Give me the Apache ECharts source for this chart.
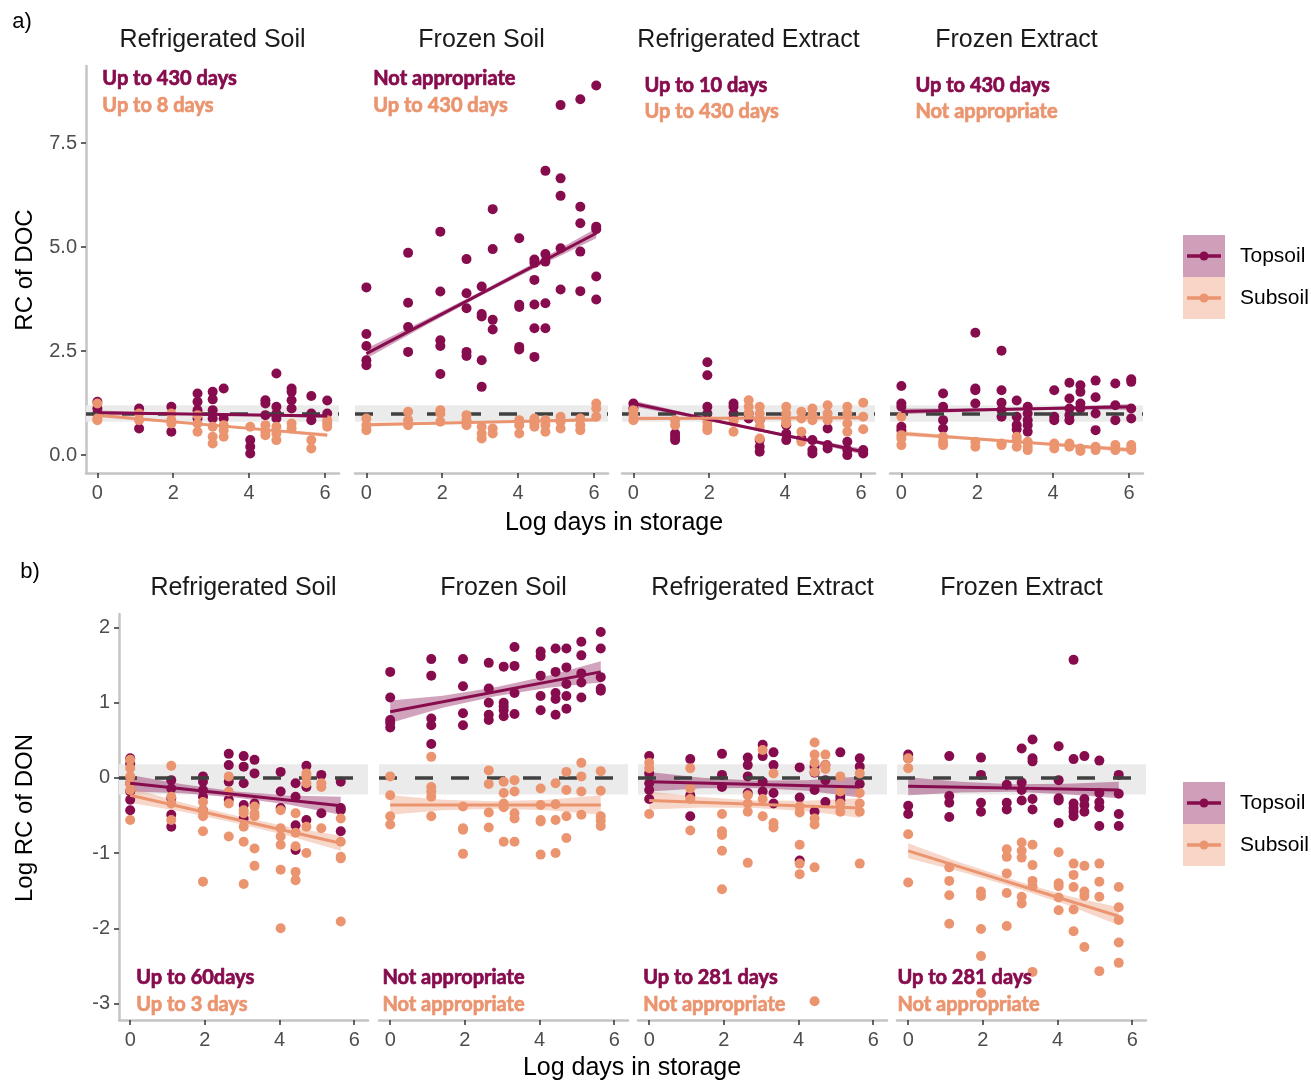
<!DOCTYPE html>
<html lang="en">
<head>
<meta charset="UTF-8">
<title>RC of DOC and DON in storage</title>
<script src="https://cdn.jsdelivr.net/npm/echarts@6/dist/echarts.min.js"></script>
<style>html, body { margin: 0; background: #fff; }</style>
</head>
<body>
<div id="main" style="width: 1311px; height: 1081px;"></div>
<script>
// storage times, log days (a: up to 430 d, b: up to 281 d)
const logDaysA = [0, 1.1, 1.95, 2.64, 3.04, 3.33, 4.03, 4.43, 4.72, 5.12, 5.64, 6.06];
const logDaysB = [0, 1.1, 1.95, 2.64, 3.04, 3.33, 4.03, 4.43, 4.72, 5.12, 5.64];
const facets = ['Refrigerated Soil', 'Frozen Soil', 'Refrigerated Extract', 'Frozen Extract'];
const xTicks = [0, 2, 4, 6];
const docTicks = [0, 2.5, 5, 7.5];
const donTicks = [-3, -2, -1, 0, 1, 2];

// a) RC of DOC, replicates at each storage time
const docRefSoilTop = [[1.28,1.12,1.0],[1.12,0.64],[1.16,0.56],[1.48,1.28,1.08,0.88],[1.52,1.34,1.08,0.88],[1.60,0.88],[0.36,0.20,0.04],[1.32,1.24,0.96],[1.96,1.16,1.0,0.88],[1.60,1.52,1.32,1.12],[1.42,1.0,0.84],[1.31,1.0]];
const docRefSoilSub = [[1.24,0.88,0.84],[1.0,0.84],[1.0,0.84,0.76],[0.96,0.76,0.56],[0.68,0.44,0.28],[0.72,0.60,0.44],[0.68],[0.72,0.56,0.48],[0.68,0.52,0.36],[0.76,0.64],[0.36,0.16],[0.84,0.76,0.68]];
const docFrzSoilTop = [[4.03,2.91,2.62,2.28,2.16],[4.86,3.66,3.08,2.48],[5.37,3.93,2.76,2.62,1.95],[4.71,3.89,3.53,2.48,2.38],[4.05,3.39,3.33,2.28,1.64],[5.91,4.95,3.25,3.02],[5.21,3.61,3.56,2.60,2.54],[4.70,4.62,4.21,3.62,3.05,2.36],[6.83,4.83,4.65,3.65,3.05],[8.41,6.65,6.23,4.97,3.98],[8.55,5.97,5.57,4.89,3.94],[8.88,5.49,5.43,4.29,3.74]];
const docFrzSoilSub = [[0.88,0.72,0.60],[1.04,0.84,0.72],[1.08,1.0,0.80],[0.96,0.84,0.72],[0.68,0.52,0.40],[0.64,0.52],[0.84,0.72,0.52],[0.88,0.76,0.68],[0.84,0.72,0.56],[0.92,0.80,0.64],[0.88,0.72,0.60],[1.24,1.12,0.92]];
const docRefExtTop = [[1.24,1.12],[0.52,0.44,0.36],[2.23,1.92,1.16,1.0],[1.24,1.16,1.0,0.88],[1.0,0.88],[0.84,0.36,0.20,0.08],[0.72,0.52,0.36],[0.40],[0.36,0.12,0.04],[0.64,0.24,0.16],[0.32,0.12,0.0],[0.12,0.04]];
const docRefExtSub = [[1.08,0.96,0.84],[0.84,0.72],[0.80,0.68,0.60],[0.80,0.56],[1.32,1.16,1.0],[1.16,1.0,0.84,0.68,0.40],[1.16,1.0,0.84,0.76],[1.04,0.88,0.56,0.32],[1.12,0.96,0.84],[1.20,1.0,0.84],[1.16,1.0,0.76,0.56],[1.26,0.92,0.62]];
const docFrzExtTop = [[1.66,1.24,1.16,0.68,0.60],[1.48,1.16,0.84,0.64],[2.94,1.60,1.56,1.24],[2.51,1.56,1.26,1.08,0.92],[1.31,0.92,0.72,0.62],[1.16,1.0,0.84,0.72,0.56],[1.56,0.92,0.84],[1.74,1.36,1.12,0.96,0.84],[1.68,1.52,1.24,1.12],[1.79,1.39,1.0,0.60],[1.72,1.20,0.84],[1.82,1.76,1.12,0.88]];
const docFrzExtSub = [[0.92,0.48,0.40,0.24],[0.44,0.32,0.24],[0.32,0.20],[0.28,0.24],[0.44,0.36,0.20],[0.32,0.20,0.12],[0.28,0.16],[0.28,0.20],[0.16,0.10],[0.20,0.12],[0.24,0.12],[0.24,0.16,0.12]];

// b) log RC of DON
const donRefSoilTop = [[0.26,0.19,-0.07,-0.18,-0.29,-0.43],[-0.03,-0.14,-0.27,-0.49,-0.65],[0.02,-0.05,-0.16,-0.25,-0.43],[0.32,0.17,-0.05,-0.29],[0.29,0.15,-0.07,-0.36,-0.54],[0.24,0.06,-0.34],[0.08,-0.18,-0.40],[-0.07,-0.25,-0.63,-0.96],[0.16,-0.12,-0.56],[0.04,-0.47],[-0.05,-0.40,-0.43,-0.71]];
const donRefSoilSub = [[0.24,0.13,0.02,-0.07,-0.16,-0.56],[0.16,-0.25,-0.34,-0.56],[-0.32,-0.43,-0.51,-0.71,-1.38],[0.02,-0.18,-0.34,-0.78],[-0.43,-0.47,-0.65,-0.85,-1.41],[-0.38,-0.47,-0.51,-0.94,-1.17],[-0.43,-0.67,-0.78,-0.89,-1.22,-2.00],[-0.47,-0.73,-0.91,-1.25,-1.36],[0.06,0.02,-0.07,-0.65,-1.00],[-0.07,-0.12,-0.67],[-0.54,-0.85,-1.05,-1.07,-1.91]];
const donFrzSoilTop = [[1.41,1.07,0.77,0.73,0.67],[1.58,1.36,0.79,0.70,0.45],[1.58,1.22,0.86,0.70],[1.53,1.19,1.00,0.84,0.77],[1.48,1.00,0.95,0.90,0.82],[1.74,1.49,1.13,0.85],[1.68,1.62,1.36,1.09,0.90],[1.72,1.41,1.13,1.05,0.84],[1.72,1.47,1.25,1.09,0.92],[1.81,1.63,1.39,1.27,1.07],[1.94,1.72,1.34,1.19,1.16]];
const donFrzSoilSub = [[0.02,-0.23,-0.51,-0.62],[0.28,-0.12,-0.18,-0.25,-0.51],[-0.38,-0.67,-0.69,-1.01],[0.10,-0.08,-0.46,-0.66],[-0.05,-0.20,-0.34,-0.39,-0.85],[-0.03,-0.18,-0.47,-0.54,-0.85],[-0.14,-0.36,-0.56,-0.58,-1.02],[-0.07,-0.35,-0.56,-1.00],[0.08,-0.16,-0.51,-0.80],[0.20,0.02,-0.18,-0.49],[0.09,-0.17,-0.51,-0.57,-0.64]];
const donRefExtTop = [[0.29,0.06,-0.07,-0.16,-0.28],[0.25,-0.23,-0.51],[0.32,0.04,-0.12],[0.27,0.17,0.02,-0.20],[0.44,0.29,-0.05,-0.18],[0.34,0.17,-0.20,-0.34],[0.14,-0.26,-1.10],[0.15,0.07,-0.16,-0.45],[0.17,-0.03,-0.32],[0.34,-0.25,-0.30],[0.26,0.15,-0.08]];
const donRefExtSub = [[0.20,0.13,-0.48],[0.13,-0.14,-0.28,-0.70],[-0.48,-0.71,-0.76,-0.97,-1.48],[-0.23,-0.34,-0.45,-1.13],[0.37,-0.28,-0.51],[0.06,-0.60,-0.66],[-0.38,-0.46,-0.89,-1.14,-1.28],[0.47,0.31,0.20,0.08,-0.54,-0.62,-1.19,-2.97],[0.31,0.17,0.12],[0.02,-0.18,-0.34,-0.45],[0.06,-0.20,-0.34,-0.45,-1.14]];
const donFrzExtTop = [[0.31,0.26,-0.37,-0.48],[0.29,-0.24,-0.33,-0.52],[0.27,0.04,-0.33,-0.45],[-0.09,-0.33,-0.42],[0.39,-0.06,-0.16,-0.30],[0.51,0.26,0.22,-0.28,-0.42],[0.42,-0.03,-0.27,-0.30,-0.60],[1.57,0.25,-0.34,-0.40,-0.45,-0.51],[0.29,-0.28,-0.36,-0.45],[0.23,-0.20,-0.32,-0.39,-0.64],[0.04,-0.21,-0.48,-0.64]];
const donFrzExtSub = [[0.26,0.13,-0.75,-1.39],[-1.19,-1.37,-1.56,-1.94],[-1.51,-1.57,-2.01,-2.37,-2.86],[-0.95,-1.05,-1.27,-1.53,-1.97],[-0.86,-0.97,-1.06,-1.58,-1.67],[-0.89,-1.16,-1.37,-1.44,-2.58],[-0.99,-1.40,-1.44,-1.59,-1.76],[-1.14,-1.29,-1.45,-1.75,-2.04],[-1.17,-1.51,-1.57,-2.25],[-1.14,-1.38,-1.58,-2.57],[-1.45,-1.72,-1.89,-2.19,-2.46]];

// linear fits (value at first and last storage time) and CI half widths along the fit
const docFitTop = [[1.02, 0.94], [2.44, 5.33], [1.24, 0.08], [1.05, 1.16]];
const docFitSub = [[0.96, 0.48], [0.73, 0.85], [0.88, 0.90], [0.52, 0.12]];
const docBandTop = [[0.05,0.03,0.02,0.03,0.05],[0.12,0.07,0.05,0.07,0.12],[0.07,0.04,0.03,0.04,0.07],[0.07,0.04,0.03,0.04,0.07]];
const docBandSub = [[0.05,0.03,0.02,0.03,0.05],[0.05,0.03,0.02,0.03,0.05],[0.05,0.03,0.02,0.03,0.05],[0.06,0.04,0.03,0.04,0.06]];
const donFitTop = [[-0.07, -0.37], [0.88, 1.41], [-0.05, -0.12], [-0.11, -0.16]];
const donFitSub = [[-0.23, -0.87], [-0.36, -0.36], [-0.30, -0.40], [-0.97, -1.84]];
const donBandTop = [[0.11,0.06,0.04,0.06,0.12],[0.15,0.08,0.06,0.08,0.14],[0.13,0.07,0.05,0.07,0.14],[0.12,0.07,0.05,0.07,0.11]];
const donBandSub = [[0.10,0.06,0.05,0.06,0.10],[0.13,0.07,0.05,0.07,0.13],[0.12,0.07,0.05,0.07,0.13],[0.10,0.06,0.05,0.06,0.12]];

// storage limits written in each panel
const docNoteTop = ['Up to 430 days', 'Not appropriate', 'Up to 10 days', 'Up to 430 days'];
const docNoteSub = ['Up to 8 days', 'Up to 430 days', 'Up to 430 days', 'Not appropriate'];
const donNoteTop = ['Up to 60days', 'Not appropriate', 'Up to 281 days', 'Up to 281 days'];
const donNoteSub = ['Up to 3 days', 'Not appropriate', 'Not appropriate', 'Not appropriate'];

const TOP = '#870C4E', SUB = '#EB9570';
const TOP_FILL = 'rgba(135,12,78,0.38)', SUB_FILL = 'rgba(235,149,112,0.38)';
const FONT = '"Liberation Sans", Arial, sans-serif';

const rows = [
    { days: logDaysA, top: 66, height: 407, lefts: [86, 355, 622, 890], width: 253,
      min: -0.43, max: 9.35, ref: 1, band: [0.8, 1.2], ticks: docTicks, fmt: v => v.toFixed(1),
      pts: [[docRefSoilTop, docRefSoilSub], [docFrzSoilTop, docFrzSoilSub], [docRefExtTop, docRefExtSub], [docFrzExtTop, docFrzExtSub]],
      fit: [docFitTop, docFitSub], ci: [docBandTop, docBandSub], notes: [docNoteTop, docNoteSub],
      noteX: [0.13, 0.18, 0.29, 0.37], noteY: [[9.04, 8.39], [9.04, 8.39], [8.89, 8.25], [8.89, 8.25]] },
    { days: logDaysB, top: 614, height: 406, lefts: [119, 379, 638, 897], width: 249,
      min: -3.22, max: 2.18, ref: 0, band: [-0.22, 0.18], ticks: donTicks, fmt: v => String(v),
      pts: [[donRefSoilTop, donRefSoilSub], [donFrzSoilTop, donFrzSoilSub], [donRefExtTop, donRefExtSub], [donFrzExtTop, donFrzExtSub]],
      fit: [donFitTop, donFitSub], ci: [donBandTop, donBandSub], notes: [donNoteTop, donNoteSub],
      noteX: [0.16, -0.21, -0.16, -0.29], noteY: [[-2.65, -3.01], [-2.65, -3.01], [-2.65, -3.01], [-2.65, -3.01]] }
];

function toPoints(days, reps) {
    const out = [];
    reps.forEach((vals, i) => vals.forEach(v => out.push([days[i], v])));
    return out;
}

var myChart = echarts.init(document.getElementById('main'));
const grids = [], xAxes = [], yAxes = [], series = [], graphics = [];

rows.forEach((row, r) => {
    row.lefts.forEach((left, i) => {
        const g = r * 4 + i;
        grids.push({ left: left, top: row.top, width: row.width, height: row.height });
        xAxes.push({
            type: 'value', gridIndex: g, min: -0.3, max: 6.37,
            axisLine: { onZero: false, lineStyle: { color: '#C4C4C4', width: 2.5 } },
            axisTick: { customValues: xTicks, length: 5, lineStyle: { color: '#333', width: 1.5 } },
            axisLabel: { customValues: xTicks, color: '#4D4D4D', fontSize: 20, fontFamily: FONT, margin: 10 },
            splitLine: { show: false }
        });
        yAxes.push({
            type: 'value', gridIndex: g, min: row.min, max: row.max,
            axisLine: { show: i === 0, onZero: false, lineStyle: { color: '#C4C4C4', width: 2.5 } },
            axisTick: { show: i === 0, customValues: row.ticks, length: 5, lineStyle: { color: '#333', width: 1.5 } },
            axisLabel: { show: i === 0, customValues: row.ticks, formatter: row.fmt, color: '#4D4D4D', fontSize: 20, fontFamily: FONT, margin: 9 },
            splitLine: { show: false }
        });

        // grey tolerance band
        series.push({
            type: 'line', xAxisIndex: g, yAxisIndex: g, data: [], z: 1, silent: true,
            markArea: { silent: true, itemStyle: { color: '#EBEBEB' }, data: [[{ yAxis: row.band[0] }, { yAxis: row.band[1] }]] }
        });

        const first = row.days[0], last = row.days[row.days.length - 1];
        [TOP, SUB].forEach((color, k) => {
            const fit = row.fit[k][i], ci = row.ci[k][i];
            // confidence ribbon
            const rib = ci.map((w, j) => {
                const x = first + (last - first) * j / (ci.length - 1);
                const c = fit[0] + (fit[1] - fit[0]) * j / (ci.length - 1);
                return [x, c - w, c + w];
            });
            series.push({
                type: 'custom', xAxisIndex: g, yAxisIndex: g, data: rib, z: 3, silent: true,
                encode: { x: 0, y: [1, 2] },
                renderItem: (params, api) => {
                    if (params.dataIndex !== 0) return null;
                    const up = rib.map(p => api.coord([p[0], p[2]]));
                    const lo = rib.map(p => api.coord([p[0], p[1]])).reverse();
                    return { type: 'polygon', shape: { points: up.concat(lo) }, style: { fill: k === 0 ? TOP_FILL : SUB_FILL } };
                }
            });
            series.push({
                type: 'scatter', xAxisIndex: g, yAxisIndex: g, z: 4 + k,
                data: toPoints(row.days, row.pts[i][k]),
                symbolSize: 10, itemStyle: { color: color, opacity: 1 }
            });
            series.push({
                type: 'line', xAxisIndex: g, yAxisIndex: g, z: 6 + k,
                data: [[first, fit[0]], [last, fit[1]]],
                symbol: 'none', lineStyle: { color: color, width: 3 }
            });
            // storage limit note
            series.push({
                type: 'scatter', xAxisIndex: g, yAxisIndex: g, z: 9, silent: true,
                data: [[row.noteX[i], row.noteY[i][k], row.notes[k][i]]],
                symbolSize: 0.1, itemStyle: { color: color, opacity: 0 },
                label: {
                    show: true, position: 'right', distance: 0, formatter: p => p.value[2], opacity: 1,
                    color: color, textBorderColor: color, textBorderWidth: 0.7,
                    fontFamily: 'Lato, "Open Sans", sans-serif', fontWeight: 'bold', fontSize: 20
                }
            });
        });

        // dashed reference line
        series.push({
            type: 'line', xAxisIndex: g, yAxisIndex: g, data: [], z: 8, silent: true,
            markLine: {
                silent: true, symbol: 'none', label: { show: false },
                lineStyle: { color: '#404040', width: 3.5, type: [18, 18] },
                data: [{ yAxis: row.ref }]
            }
        });

        graphics.push({
            type: 'text', x: left + row.width / 2, y: row.top - 26,
            style: { text: facets[i], font: '25px ' + FONT, fill: '#1A1A1A', align: 'center', verticalAlign: 'middle' }
        });
    });
});

const textStyle = (text, size) => ({ text: text, font: size + 'px ' + FONT, fill: '#000', align: 'center', verticalAlign: 'middle' });
graphics.push(
    { type: 'text', x: 614, y: 523, style: textStyle('Log days in storage', 25) },
    { type: 'text', x: 632, y: 1068, style: textStyle('Log days in storage', 25) },
    { type: 'text', x: 25, y: 270, rotation: Math.PI / 2, style: textStyle('RC of DOC', 24) },
    { type: 'text', x: 25, y: 818, rotation: Math.PI / 2, style: textStyle('Log RC of DON', 24) },
    { type: 'text', x: 22, y: 22, style: textStyle('a)', 22) },
    { type: 'text', x: 30, y: 572, style: textStyle('b)', 22) }
);

// legend keys (one per panel row)
[235, 782].forEach(y0 => {
    [[TOP, '#CF9EB8', 'Topsoil'], [SUB, '#F8D5C6', 'Subsoil']].forEach((it, k) => {
        const y = y0 + k * 42;
        graphics.push(
            { type: 'rect', shape: { x: 1183, y: y, width: 42, height: 42 }, style: { fill: it[1] } },
            { type: 'line', shape: { x1: 1187, y1: y + 21, x2: 1221, y2: y + 21 }, style: { stroke: it[0], lineWidth: 3.5 } },
            { type: 'circle', shape: { cx: 1204, cy: y + 21, r: 4.5 }, style: { fill: it[0] } },
            { type: 'text', x: 1240, y: y + 21, style: { text: it[2], font: '21px ' + FONT, fill: '#000', align: 'left', verticalAlign: 'middle' } }
        );
    });
});

const option = {
    animation: false,
    grid: grids,
    xAxis: xAxes,
    yAxis: yAxes,
    series: series,
    graphic: graphics
};
myChart.setOption(option);
</script>
</body>
</html>
